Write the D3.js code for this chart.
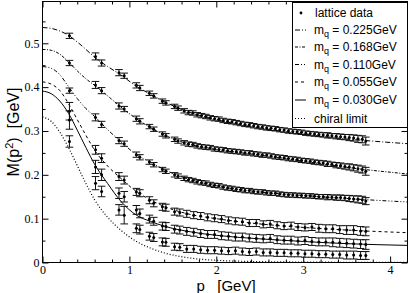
<!DOCTYPE html>
<html>
<head>
<meta charset="utf-8">
<script src="https://cdn.jsdelivr.net/npm/d3@7"></script>
<style>
body { margin: 0; background: #fff; }
svg { display: block; }
</style>
</head>
<body>
<div id="chart"></div>
<script>
// lattice momenta (GeV), heavier three quark masses
const momentaHeavy = [0.31, 0.61, 0.68, 0.88, 0.94, 1.08, 1.12, 1.23, 1.28, 1.38, 1.42, 1.52, 1.56,
  1.63, 1.68, 1.73, 1.78, 1.83, 1.88, 1.93, 1.98, 2.03, 2.08, 2.13, 2.18, 2.23, 2.28, 2.33, 2.38,
  2.43, 2.48, 2.53, 2.58, 2.63, 2.68, 2.73, 2.78, 2.83, 2.88, 2.93, 2.98, 3.03, 3.08, 3.13, 3.18,
  3.23, 3.28, 3.33, 3.38, 3.43, 3.48, 3.53, 3.58, 3.63, 3.68, 3.72];

const mass225 = [.517, .470, .455, .433, .426, .404, .398, .386, .380, .368, .364, .356, .352,
  .346, .342, .341, .337, .335, .333, .330, .328, .327, .324, .322, .321, .319, .317, .315, .314,
  .312, .310, .309, .307, .306, .305, .303, .302, .300, .299, .298, .297, .295, .294, .293, .292,
  .291, .290, .289, .288, .287, .286, .285, .284, .282, .281, .277];
const err225 = [.006, .008, .007, .007, .006, .006, .006, .005, .005, .005, .005, .005, .005,
  .005, .005, .005, .005, .005, .005, .005, .005, .005, .005, .005, .005, .005, .005, .005, .005,
  .005, .005, .005, .005, .005, .005, .005, .005, .005, .005, .005, .005, .005, .005, .005, .005,
  .005, .006, .005, .006, .006, .006, .007, .007, .008, .008, .009];

const mass168 = [.455, .405, .392, .357, .350, .328, .322, .310, .304, .293, .289, .281, .277,
  .273, .270, .269, .266, .264, .263, .262, .259, .258, .257, .255, .254, .253, .252, .250, .250,
  .248, .247, .245, .245, .243, .241, .240, .239, .237, .236, .235, .233, .232, .231, .229, .228,
  .227, .225, .224, .222, .221, .219, .218, .216, .214, .212, .208];
const err168 = [.006, .008, .007, .007, .006, .006, .006, .005, .005, .005, .005, .005, .005,
  .005, .005, .005, .005, .005, .005, .005, .005, .005, .005, .005, .005, .005, .005, .005, .005,
  .005, .005, .005, .005, .005, .005, .005, .005, .005, .005, .005, .005, .005, .005, .005, .005,
  .005, .006, .005, .006, .006, .006, .007, .007, .008, .008, .009];

const mass110 = [.392, .331, .315, .278, .271, .246, .240, .229, .223, .212, .208, .200, .197,
  .192, .189, .187, .184, .182, .181, .178, .176, .175, .172, .170, .169, .167, .166, .164, .164,
  .162, .161, .161, .159, .158, .158, .156, .155, .154, .154, .153, .153, .152, .152, .151, .150,
  .150, .149, .149, .148, .148, .147, .146, .145, .144, .143, .140];
const err110 = [.006, .008, .007, .007, .006, .006, .006, .005, .005, .005, .005, .005, .005,
  .005, .005, .005, .005, .005, .005, .005, .005, .005, .005, .005, .005, .005, .005, .005, .005,
  .005, .005, .005, .005, .005, .005, .005, .005, .005, .005, .005, .005, .005, .005, .005, .005,
  .005, .006, .005, .006, .006, .006, .007, .007, .008, .008, .008];

// lattice momenta (GeV), lighter masses
const momentaLight = [0.31, 0.61, 0.68, 0.88, 0.94, 1.08, 1.12, 1.23, 1.28, 1.38, 1.42, 1.52,
  1.58, 1.66, 1.74, 1.82, 1.90, 1.98, 2.06, 2.14, 2.22, 2.30, 2.38, 2.46, 2.54, 2.62, 2.70, 2.78,
  2.86, 2.94, 3.02, 3.10, 3.18, 3.26, 3.34, 3.42, 3.50, 3.58, 3.66, 3.72];

const mass055 = [.345, .257, .238, .196, .188, .161, .158, .142, .135, .127, .125, .116,
  .114, .111, .108, .106, .103, .101, .099, .096, .094, .093, .090, .090, .087, .088, .085, .083,
  .084, .081, .080, .081, .078, .077, .077, .075, .074, .074, .072, .071];
const err055 = [.020, .010, .010, .009, .009, .008, .008, .008, .008, .008, .008, .008,
  .008, .008, .008, .008, .008, .008, .008, .008, .008, .008, .008, .008, .008, .008, .008, .008,
  .008, .008, .008, .008, .009, .009, .009, .009, .010, .010, .010, .010];

const mass030 = [.325, .218, .200, .158, .150, .120, .112, .099, .094, .083, .082, .076,
  .074, .071, .069, .066, .064, .064, .061, .060, .058, .058, .056, .055, .054, .055, .052, .051,
  .051, .049, .050, .048, .047, .047, .046, .045, .044, .043, .042, .041];
const err030 = [.021, .015, .013, .012, .012, .010, .010, .009, .009, .009, .009, .009,
  .009, .009, .009, .009, .009, .009, .009, .009, .009, .009, .009, .009, .009, .009, .009, .009,
  .009, .009, .009, .009, .009, .009, .010, .010, .010, .010, .010, .011];

const massLow = [.276, .181, .162, .120, .108, .078, .075, .060, .057, .047, .046, .036,
  .035, .031, .031, .029, .028, .028, .027, .026, .027, .025, .024, .025, .023, .023, .022, .022,
  .021, .021, .020, .020, .019, .019, .018, .018, .017, .017, .016, .016];
const errLow = [.013, .015, .012, .012, .020, .010, .010, .009, .009, .009, .009, .008,
  .008, .008, .008, .008, .008, .008, .008, .008, .008, .008, .008, .008, .008, .008, .008, .008,
  .008, .008, .008, .008, .008, .008, .008, .008, .009, .009, .009, .009];

// model curves, read at these momenta
const fitMomenta = [0, 0.1, 0.2, 0.3, 0.4, 0.5, 0.6, 0.75, 0.9, 1.08, 1.24, 1.4, 1.67, 2.0, 2.5, 3.0, 3.5, 4.2];
const fit225 = [.536, .534, .528, .518, .503, .486, .468, .447, .428, .402, .384, .367, .344, .326, .307, .293, .282, .271];
const fit168 = [.486, .484, .475, .457, .437, .419, .404, .380, .355, .328, .308, .291, .271, .258, .245, .231, .217, .202];
const fit110 = [.447, .443, .428, .401, .374, .351, .333, .303, .276, .246, .229, .212, .191, .175, .161, .153, .146, .138];
const fit055 = [.412, .407, .392, .362, .326, .290, .256, .220, .192, .162, .143, .128, .111, .100, .088, .080, .074, .068];
const fit030 = [.391, .385, .368, .340, .302, .262, .224, .180, .140, .108, .094, .083, .071, .062, .054, .048, .043, .039];
const fitChiral = [.332, .322, .297, .262, .221, .180, .143, .103, .074, .048, .033, .022, .011, .005, .002, .001, .0005, .0002];

const massLabels = ["0.225", "0.168", "0.110", "0.055", "0.030"];
const xTicks = [0, 1, 2, 3, 4];
const yTicks = [0, 0.1, 0.2, 0.3, 0.4, 0.5];

const W = 409, H = 293;
const x = d3.scaleLinear().domain([0, 4.2]).range([42.5, 407.5]);
const y = d3.scaleLinear().domain([0, 0.5953]).range([262.5, 1.5]);

const svg = d3.select("#chart").append("svg")
    .attr("width", W)
    .attr("height", H)
    .style("background", "#fff");

svg.append("defs").append("clipPath").attr("id", "plot")
    .append("rect")
    .attr("x", 42.5).attr("y", 1.5)
    .attr("width", 365).attr("height", 261);

// curves
const dashes = ["5,2,1,2", "3,1.5,1,1.5", "4,2,1,2,1,2", "3,3", null, "1,2"];
const fits = [fit225, fit168, fit110, fit055, fit030, fitChiral];

const line = d3.line()
    .x(d => x(d[0]))
    .y(d => y(d[1]))
    .curve(d3.curveMonotoneX);

const curves = svg.append("g").attr("clip-path", "url(#plot)");
fits.forEach((f, i) => {
  curves.append("path")
      .datum(fitMomenta.map((p, j) => [p, f[j]]))
      .attr("fill", "none")
      .attr("stroke", "#000")
      .attr("stroke-width", i == 5 ? 1.2 : 1)
      .attr("stroke-dasharray", dashes[i])
      .attr("d", line);
});

// lattice data with error bars
const sets = [
  [momentaHeavy, mass225, err225],
  [momentaHeavy, mass168, err168],
  [momentaHeavy, mass110, err110],
  [momentaLight, mass055, err055],
  [momentaLight, mass030, err030],
  [momentaLight, massLow, errLow]
];

const pts = svg.append("g").attr("clip-path", "url(#plot)")
    .attr("stroke", "#111").attr("stroke-width", 1);
sets.forEach(([ps, ms, es]) => {
  const g = pts.append("g");
  ps.forEach((p, i) => {
    const cx = x(p), lo = y(ms[i] - es[i]), hi = y(ms[i] + es[i]);
    g.append("line").attr("x1", cx).attr("x2", cx).attr("y1", lo).attr("y2", hi);
    g.append("line").attr("x1", cx - 3.8).attr("x2", cx + 3.8).attr("y1", lo).attr("y2", lo);
    g.append("line").attr("x1", cx - 3.8).attr("x2", cx + 3.8).attr("y1", hi).attr("y2", hi);
    g.append("circle").attr("cx", cx).attr("cy", y(ms[i])).attr("r", 1.5)
        .attr("fill", "#000").attr("stroke", "none");
  });
});

// axes, ticks inward on all four sides
const xMinor = d3.range(0.2, 4.2, 0.2).filter(v => Math.abs(v - Math.round(v)) > 1e-6);
const yMinor = d3.range(0.05, 0.6, 0.1);
const noDomain = g => g.select(".domain").remove();
const tickFont = g => g.selectAll("text")
    .attr("font-family", "'Liberation Serif', 'DejaVu Serif', serif")
    .attr("font-size", 12)
    .attr("fill", "#000");

svg.append("g").attr("transform", "translate(0,262.5)")
    .call(d3.axisBottom(x).tickValues(xTicks).tickSize(-6).tickPadding(3).tickFormat(d3.format("d")))
    .call(noDomain).call(tickFont);
svg.append("g").attr("transform", "translate(0,262.5)")
    .call(d3.axisBottom(x).tickValues(xMinor).tickSize(-3).tickFormat(""))
    .call(noDomain);
svg.append("g").attr("transform", "translate(0,1.5)")
    .call(d3.axisTop(x).tickValues(xTicks).tickSize(-6).tickFormat(""))
    .call(noDomain);
svg.append("g").attr("transform", "translate(0,1.5)")
    .call(d3.axisTop(x).tickValues(xMinor).tickSize(-3).tickFormat(""))
    .call(noDomain);

svg.append("g").attr("transform", "translate(42.5,0)")
    .call(d3.axisLeft(y).tickValues(yTicks).tickSize(-6).tickPadding(3).tickFormat(d3.format(".1~f")))
    .call(noDomain).call(tickFont);
svg.append("g").attr("transform", "translate(42.5,0)")
    .call(d3.axisLeft(y).tickValues(yMinor).tickSize(-3).tickFormat(""))
    .call(noDomain);
svg.append("g").attr("transform", "translate(407.5,0)")
    .call(d3.axisRight(y).tickValues(yTicks).tickSize(-6).tickFormat(""))
    .call(noDomain);
svg.append("g").attr("transform", "translate(407.5,0)")
    .call(d3.axisRight(y).tickValues(yMinor).tickSize(-3).tickFormat(""))
    .call(noDomain);

svg.append("rect")
    .attr("x", 42.5).attr("y", 1.5)
    .attr("width", 365).attr("height", 261)
    .attr("fill", "none").attr("stroke", "#000");

// axis titles
const sans = "'Liberation Sans', Arial, Helvetica, sans-serif";
svg.append("text")
    .attr("x", 226).attr("y", 291)
    .attr("text-anchor", "middle")
    .attr("font-family", sans).attr("font-size", 15)
    .style("white-space", "pre")
    .text("p   [GeV]");

const yt = svg.append("text")
    .attr("transform", "translate(18.5,132) rotate(-90)")
    .attr("text-anchor", "middle")
    .attr("font-family", sans).attr("font-size", 16)
    .style("white-space", "pre");
yt.append("tspan").text("M(p");
yt.append("tspan").attr("font-size", 11).attr("dy", -6).text("2");
yt.append("tspan").attr("dy", 6).text(")  [GeV]");

// legend
const lg = svg.append("g");
lg.append("rect")
    .attr("x", 292.5).attr("y", 2.5)
    .attr("width", 115).attr("height", 125)
    .attr("fill", "#fff").attr("stroke", "#000");

const rowY = [13, 30, 47, 64.5, 82, 100, 118.5];
lg.append("circle").attr("cx", 301).attr("cy", rowY[0]).attr("r", 1.4).attr("fill", "#000");
lg.append("text")
    .attr("x", 315).attr("y", rowY[0] + 4)
    .attr("font-family", sans).attr("font-size", 12)
    .text("lattice data");

massLabels.forEach((m, i) => {
  const cy = rowY[i + 1];
  lg.append("line")
      .attr("x1", 295).attr("x2", 306).attr("y1", cy).attr("y2", cy)
      .attr("stroke", "#000").attr("stroke-dasharray", dashes[i]);
  const t = lg.append("text")
      .attr("x", 314).attr("y", cy + 4)
      .attr("font-family", sans).attr("font-size", 12);
  t.append("tspan").text("m");
  t.append("tspan").attr("font-size", 9).attr("dy", 3).text("q");
  t.append("tspan").attr("dy", -3).text(" = " + m + "GeV");
});

lg.append("line")
    .attr("x1", 295).attr("x2", 306).attr("y1", rowY[6]).attr("y2", rowY[6])
    .attr("stroke", "#000").attr("stroke-dasharray", dashes[5]);
lg.append("text")
    .attr("x", 314).attr("y", rowY[6] + 4)
    .attr("font-family", sans).attr("font-size", 12)
    .text("chiral limit");
</script>
</body>
</html>
